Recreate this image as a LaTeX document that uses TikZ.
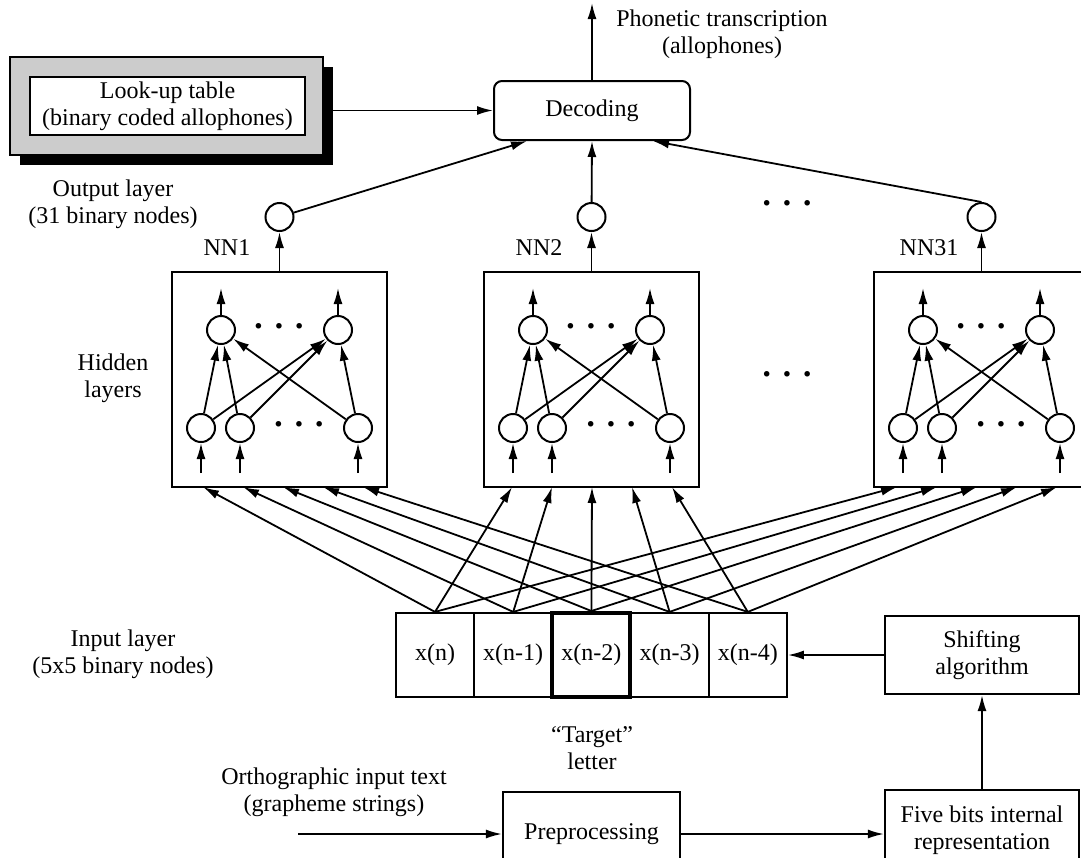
\documentclass[tikz,border=0pt]{standalone}
\usepackage{fontspec}
\setmainfont{Liberation Serif}
\usetikzlibrary{arrows.meta,calc}

\begin{document}
\begin{tikzpicture}
	[
	x=1pt, y=-1pt,
	font=\fontsize{24}{27}\selectfont,
	align=center,
	arr/.style={-{Latex[length=16pt,width=9pt]}, line width=1.8pt},
	box/.style={draw, line width=2.2pt, inner sep=0pt},
	net/.style={draw, line width=1.5pt, minimum width=215pt, minimum height=215pt, inner sep=0pt},
	neuron/.style={draw, circle, line width=2pt, minimum size=28pt, inner sep=0pt},
	cell/.style={draw, line width=2.2pt, minimum width=78pt, minimum height=84pt, inner sep=0pt},
	dotrow/.style={inner sep=0pt, font=\fontsize{34}{34}\selectfont\bfseries},
	]
		\useasboundingbox (0,0) rectangle (1081,857);

		% look-up table
		\node[fill=black, minimum width=313pt, minimum height=98pt, inner sep=0pt] (lutsh) at (176.5,116) {};
		\node[box, fill=black!20, line width=1.5pt, minimum width=313pt, minimum height=98pt] (lut) at (166.5,106) {};
		\node[box, fill=white, line width=1.5pt, minimum width=275pt, minimum height=58pt] (lutin) at (167.5,106) {Look-up table\\(binary coded allophones)};

		% decoding
		\node[draw, rounded corners=8pt, line width=2pt, minimum width=196pt, minimum height=59pt] (dec) at (592,110.5) {Decoding};
		\coordinate (phon) at (592,3);
		\node (phontxt) at (722,34) {Phonetic transcription\\(allophones)};
		\draw[arr] (dec) -- (phon);
		\draw[arr] (dec.west -| lutsh.east) -- (dec.west);

		% output layer
		\node (outtxt) at (113,204) {Output layer\\(31 binary nodes)};
		\node[dotrow] (odots) at (787,207) {·\hspace{9pt}·\hspace{9pt}·};
		\node (hidtxt) at (113,378) {Hidden\\layers};
		\node[dotrow] (ndots) at (787,378) {·\hspace{9pt}·\hspace{9pt}·};

		% the networks NN1, NN2, NN31
		\foreach \n/\bx/\off in {1/172/31, 2/484/28, 31/874/23}
		{
			\node[net] (nn\n) at ({\bx+107.5},379.5) {};
			\node (nn\n-lab) at ({\bx+55},248) {NN\n};
			\node[neuron] (o\n) at ({\bx+107.5},217) {};
			\draw[arr] (nn\n) -- (o\n);

			% hidden layers
			\node[neuron] (h\n-a) at ({\bx+49},330) {};
			\node[neuron] (h\n-b) at ({\bx+166},330) {};
			\node[neuron] (i\n-a) at ({\bx+29},428) {};
			\node[neuron] (i\n-b) at ({\bx+68},428) {};
			\node[neuron] (i\n-c) at ({\bx+186},428) {};
			\node[dotrow] (hd\n) at ({\bx+107},330) {·\hspace{9pt}·\hspace{9pt}·};
			\node[dotrow] (id\n) at ({\bx+127},428) {·\hspace{9pt}·\hspace{9pt}·};

			\draw[arr] (h\n-a) -- ++(0,-42);
			\draw[arr] (h\n-b) -- ++(0,-42);
			\foreach \s in {a,b,c} \draw[arr] (i\n-\s) ++(0,45) -- (i\n-\s);
			\foreach \s in {a,b,c} \foreach \t in {a,b} \draw[arr] (i\n-\s) -- (h\n-\t);

			% entry points at the bottom of the box
			\foreach \k in {0,...,4} \coordinate (nn\n-\k) at ({\bx+\off+40*\k},487);
		}

		\draw[arr] (o1) -- ([xshift=-65pt]dec.south);
		\draw[arr] (o2) -- (dec.south);
		\draw[arr] (o31.north) -- ([xshift=61pt]dec.south);

		% input layer
		\node (inptxt) at (123,654) {Input layer\\(5x5 binary nodes)};
		\node[cell] (x0) at (435,655) {x(n)};
		\node[cell] (x1) at (513.2,655) {x(n-1)};
		\node[cell, line width=4pt] (x2) at (591.4,655) {x(n-2)};
		\node[cell] (x3) at (669.6,655) {x(n-3)};
		\node[cell] (x4) at (747.8,655) {x(n-4)};
		\node (target) at (592,748) {“Target”\\letter};

		\foreach \k in {0,...,4} \foreach \n in {1,2,31} \draw[arr] (x\k.north) -- (nn\n-\k);

		% preprocessing
		\node[box, minimum width=194pt, minimum height=78pt] (shift) at (982,655) {Shifting\\algorithm};
		\node[box, minimum width=194pt, minimum height=80pt] (five) at (982,830) {Five bits internal\\representation};
		\node[box, minimum width=177pt, minimum height=84pt] (pre) at (591.5,834) {Preprocessing};
		\node (orth) at (334,792) {Orthographic input text\\(grapheme strings)};
		\coordinate (txtin) at (298,834);

		\draw[arr] (txtin) -- (pre);
		\draw[arr] (pre.east) -- (pre.east -| five.west);
		\draw[arr] (five) -- (shift);
		\draw[arr] (shift) -- (x4);

	\end{tikzpicture}
\end{document}
